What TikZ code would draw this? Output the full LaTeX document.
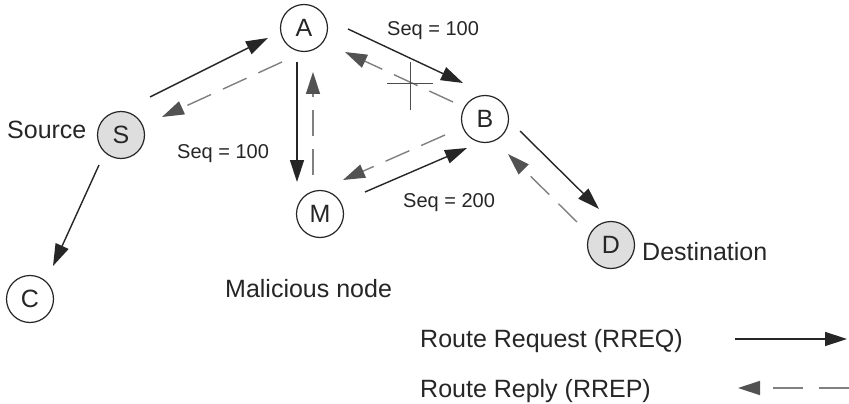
\documentclass[tikz,border=0pt]{standalone}
\usepackage{fontspec}
\setmainfont{Liberation Sans}
\usetikzlibrary{
  arrows.meta,
  positioning,
  calc
}

\begin{document}
\begin{tikzpicture}[
  x=1pt, y=-1pt,
  host/.style={circle, draw=black!85, line width=1.2pt, minimum size=47pt, inner sep=0, font=\fontsize{25}{30}\selectfont, text=black!85},
  endhost/.style={host, fill=black!13},
  req/.style={-{Triangle[length=22pt,width=14pt]}, line width=1.4pt, black!85},
  rep/.style={-{Triangle[length=22pt,width=14pt,color=black!68]}, line width=1.4pt, black!50, dash pattern=on 26pt off 13pt},
  seq/.style={anchor=base west, inner sep=0, font=\fontsize{20}{24}\selectfont, text=black!85},
  tag/.style={anchor=base west, inner sep=0, font=\fontsize{25}{30}\selectfont, text=black!85}
]
  \useasboundingbox[fill=white] (0,0) rectangle (849,404);

  % Hosts
  \node[host] (A) at (304,28) {A};
  \node[endhost] (S) at (121,135) {S};
  \node[host] (B) at (485,119) {B};
  \node[host] (M) at (320,214) {M};
  \node[endhost] (D) at (611,245) {D};
  \node[host] (C) at (30,299) {C};

  % Labels
  \node[tag] (src) at (7,138) {Source};
  \node[tag] (dst) at (642,260) {Destination};
  \node[tag] (mal) at (225,297) {Malicious node};
  \node[seq] (seqab) at (387,36) {Seq = 100};
  \node[seq] (seqam) at (177,158) {Seq = 100};
  \node[seq] (seqmb) at (403,207) {Seq = 200};

  % Route requests
  \draw[req] ($(S)+(29,-38)$) -- ($(A)+(-36,10)$);
  \draw[req] ($(A)+(-7,34)$) -- ($(M)+(-23,-32)$);
  \draw[req] ($(A)+(44,1)$) -- ($(B)+(-22,-36)$);
  \draw[req] ($(M)+(45,-22)$) -- ($(B)+(-18,29)$);
  \draw[req] ($(B)+(35,12)$) -- ($(D)+(-12,-36)$);
  \draw[req] ($(S)+(-22,30)$) -- ($(C)+(23,-33)$);

  % Route replies
  \draw[rep] ($(A)+(-22,34)$) -- ($(S)+(41,-18)$);
  \draw[rep] ($(M)+(-7,-39)$) -- ($(A)+(9,44)$);
  \draw[rep] ($(B)+(-32,-17)$) -- ($(A)+(41,24)$);
  \draw[rep] ($(B)+(-40,16)$) -- ($(M)+(23,-34)$);
  \draw[rep] ($(D)+(-34,-23)$) -- ($(B)+(23,35)$);

  % Dropped reply
  \coordinate (X) at (410,84);
  \draw[black!70, line width=1pt] ($(X)+(0,-22)$) -- ($(X)+(0,26)$);
  \draw[black!70, line width=1pt] ($(X)+(-23,0)$) -- ($(X)+(23,0)$);

  % Legend
  \node[tag] (lreq) at (420,347) {Route Request (RREQ)};
  \node[tag] (lrep) at (420,397) {Route Reply (RREP)};
  \coordinate (q0) at (735,339);
  \coordinate (q1) at (847,339);
  \coordinate (p0) at (849,388);
  \coordinate (p1) at (738,388);
  \draw[req] (q0) -- (q1);
  \draw[rep, dash pattern=on 30pt off 16pt] (p0) -- (p1);
\end{tikzpicture}
\end{document}
